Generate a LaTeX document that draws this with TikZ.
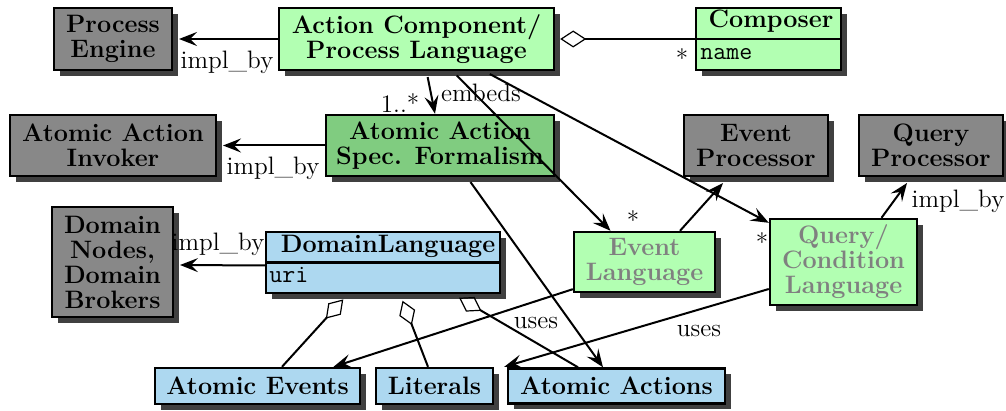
\documentclass[tikz,border=0pt]{standalone}
\usetikzlibrary{arrows.meta,shadows}
\definecolor{boxgray}{RGB}{136,136,136}
\definecolor{shadowc}{RGB}{64,64,64}
\definecolor{lgreen}{RGB}{178,255,178}
\definecolor{mgreen}{RGB}{128,204,128}
\definecolor{lblue}{RGB}{173,216,240}
\definecolor{gtext}{RGB}{128,128,128}
\begin{document}
\begin{tikzpicture}[x=0.5pt,y=-0.5pt,
  box/.style={draw, line width=1.2pt, inner sep=0pt, outer sep=0.6pt, align=center,
    font=\bfseries\fontsize{12.6}{12.5}\selectfont,
    drop shadow={shadow xshift=2.8pt, shadow yshift=-2.8pt, fill=shadowc, opacity=1}},
  gbox/.style={box, fill=boxgray, outer sep=3.5pt},
  lgbox/.style={box, fill=lgreen},
  mgbox/.style={box, fill=mgreen},
  bbox/.style={box, fill=lblue},
  sz/.style 2 args={minimum width=#1, minimum height=#2},
  arr/.style={line width=1pt, -{Stealth[length=9pt,width=7pt,inset=3.5pt]}},
  agg/.style={line width=1pt, {Diamond[open,length=13pt,width=8.5pt,line width=0.6pt]}-},
  lbl/.style={font=\fontsize{12.6}{12.5}\selectfont, inner sep=0pt},
  ttl/.style={font=\bfseries\fontsize{12.6}{12.5}\selectfont, inner sep=0pt, anchor=base},
  attr/.style={font=\ttfamily\fontsize{12.6}{12.5}\selectfont, inner sep=0pt, anchor=base west},
]
\useasboundingbox (0,0) rectangle (1006,411);

% nodes
\node[gbox, sz={59pt}{31pt}] (pe) at (113,39) {Process\\Engine};
\node[lgbox, sz={137.5pt}{31pt}] (acpl) at (416.5,39) {Action Component/\\Process Language};
\node[lgbox, sz={72.5pt}{31pt}] (comp) at (768.5,39) {};
\draw[line width=1.2pt] (comp.west) -- (comp.east);
\node[ttl] (compt) at (771,28) {Composer};
\node[attr] (compa) at (700,60) {name};

\node[gbox, sz={103pt}{30.5pt}] (aai) at (113,145.5) {Atomic Action\\Invoker};
\node[mgbox, sz={114pt}{30.5pt}] (aasf) at (440,145.5) {Atomic Action\\Spec. Formalism};
\node[gbox, sz={72pt}{30.5pt}] (ep) at (756,145.5) {Event\\Processor};
\node[gbox, sz={72pt}{30.5pt}] (qp) at (931,145.5) {Query\\Processor};

\node[gbox, sz={60.5pt}{55pt}] (dn) at (112.5,262) {Domain\\Nodes,\\Domain\\Brokers};
\node[bbox, sz={117pt}{30.5pt}] (dl) at (383,262.5) {};
\draw[line width=1.2pt] (dl.west) -- (dl.east);
\node[ttl] (dlt) at (388,253) {DomainLanguage};
\node[attr] (dla) at (269,283) {uri};
\node[lgbox, text=gtext, sz={70.5pt}{30pt}] (el) at (644.5,262) {Event\\Language};
\node[lgbox, text=gtext, sz={73.5pt}{43pt}] (qcl) at (843.5,262) {Query/\\Condition\\Language};

\node[bbox, sz={102.5pt}{18pt}] (ae) at (257.5,386) {Atomic Events};
\node[bbox, sz={58.5pt}{18pt}] (lit) at (434.5,386) {Literals};
\node[bbox, sz={108.5pt}{17.5pt}] (aa) at (616.5,386) {Atomic Actions};

% connectors
\draw[arr] (acpl.west) -- (pe.east);
\draw[arr] (aasf.west) -- (aai.east);
\draw[arr] ([yshift=-1.5pt]dl.west) -- ([yshift=-1.5pt]dn.east);
\draw[agg, shorten <=2.5pt] (acpl.east) -- (comp.west);

\draw[arr, shorten <=3pt] ([xshift=5pt]acpl.south) -- ([xshift=-2.5pt]aasf.north);
\draw[arr, shorten <=3pt] ([xshift=18pt]acpl.south) -- ([xshift=-17pt]el.north);
\draw[arr, shorten <=3pt] ([xshift=34pt]acpl.south) -- ([yshift=-2.5pt]qcl.north west);
\draw[arr] ([xshift=17.75pt]el.north) -- ([xshift=-16.5pt]ep.south);
\draw[arr] ([xshift=19pt]qcl.north) -- ([xshift=-12pt]qp.south);
\draw[arr, shorten <=3pt] ([xshift=13.5pt]aasf.south) -- ([xshift=-6.75pt]aa.north);

\draw[agg, shorten <=3.5pt] ([xshift=-17.5pt]dl.south) -- ([xshift=12.25pt]ae.north);
\draw[agg, shorten <=3.5pt] ([xshift=8.5pt]dl.south) -- ([xshift=-3.25pt]lit.north);
\draw[agg, shorten <=3.5pt] ([xshift=35pt]dl.south) -- ([xshift=-19.25pt]aa.north);

\draw[arr] ([yshift=2pt]el.south west) -- ([xshift=38pt]ae.north);
\draw[arr] ([yshift=-13.5pt]qcl.west) -- ([xshift=5pt]lit.north east);

% labels
\node[lbl] (l1) at (227,62) {impl\_by};
\node[lbl] (l2) at (273,168) {impl\_by};
\node[lbl] (l3) at (218,244) {impl\_by};
\node[lbl] (l4) at (958,201) {impl\_by};
\node[lbl] (l5) at (682,58) {*};
\node[lbl] (l6) at (400,103) {1..*};
\node[lbl] (l7) at (481,93) {embeds};
\node[lbl] (l8) at (633,220) {*};
\node[lbl] (l9) at (762,242) {*};
\node[lbl] (l10) at (536,323) {uses};
\node[lbl] (l11) at (699,331) {uses};
\end{tikzpicture}
\end{document}
